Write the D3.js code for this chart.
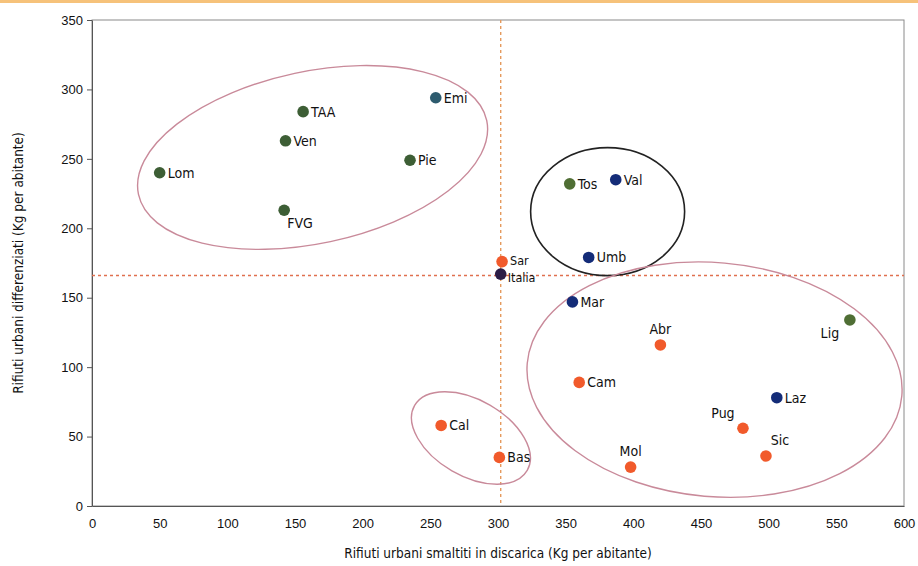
<!DOCTYPE html>
<html>
<head>
<meta charset="utf-8">
<script src="https://cdn.jsdelivr.net/npm/d3@7"></script>
<style>
  body { margin: 0; background: #fff; }
  svg { display: block; }
</style>
</head>
<body>
<div id="chart"></div>
<script>
// regioni: rifiuti in discarica (x) vs differenziati (y), kg per abitante
const regions = ['Lom', 'TAA', 'Ven', 'FVG', 'Pie', 'Emi', 'Tos', 'Val', 'Umb', 'Sar', 'Italia',
  'Mar', 'Abr', 'Lig', 'Cam', 'Laz', 'Pug', 'Sic', 'Mol', 'Cal', 'Bas']
const discarica = [50, 156, 143, 142, 235, 254, 353, 387, 367, 303, 302,
  355, 420, 560, 360, 506, 481, 498, 398, 258, 301]
const differenziati = [240, 284, 263, 213, 249, 294, 232, 235, 179, 176, 167,
  147, 116, 134, 89, 78, 56, 36, 28, 58, 35]
const groups = ['north', 'north', 'north', 'north', 'north', 'teal', 'olive', 'centre', 'centre', 'south', 'italy',
  'centre', 'south', 'olive', 'south', 'centre', 'south', 'south', 'south', 'south', 'south']
// label placement: r = right, a = above, b = below, al = above-left, bl = below-left
const labelPos = ['r', 'r', 'r', 'b', 'r', 'r', 'r', 'r', 'r', 'rh', 'rl',
  'r', 'a', 'bl', 'r', 'r', 'al', 'ar', 'a', 'r', 'r']

const xTicks = [0, 50, 100, 150, 200, 250, 300, 350, 400, 450, 500, 550, 600]
const yTicks = [0, 50, 100, 150, 200, 250, 300, 350]

// Italy reference lines
const italyX = 302
const italyY = 166

// cluster ellipses: centre in data units, radii in px, rotation in deg
const clusterCx = [163, 381, 460, 280]
const clusterCy = [251, 212, 91, 49]
const clusterRx = [178, 77, 188, 65]
const clusterRy = [86, 64, 117, 38]
const clusterRot = [-12, 0, 5, 30]
const clusterColor = ['#c98a9a', '#222', '#c98a9a', '#c98a9a']

const colors = {
  north: '#3d5e35',
  teal: '#2d5b6e',
  olive: '#4f6e34',
  centre: '#142c78',
  south: '#f15a2b',
  italy: '#2b1c46'
}

const width = 918, height = 566
const margin = { top: 20, right: 14, bottom: 60, left: 92 }

const svg = d3.select('#chart').append('svg')
  .attr('width', width)
  .attr('height', height)
  .style('font-family', '"DejaVu Sans Condensed", "Liberation Sans Narrow", sans-serif')

// orange strip at top
svg.append('rect')
  .attr('x', 0).attr('y', 0)
  .attr('width', width).attr('height', 3)
  .attr('fill', '#f6c27a')

const x = d3.scaleLinear().domain([0, 600]).range([margin.left, width - margin.right])
const y = d3.scaleLinear().domain([0, 350]).range([height - margin.bottom, margin.top])

// frame
svg.append('rect')
  .attr('x', x(0)).attr('y', y(350))
  .attr('width', x(600) - x(0)).attr('height', y(0) - y(350))
  .attr('fill', 'none')
  .attr('stroke', '#8a8a8a')
  .attr('stroke-width', 1)

// axes
svg.append('g')
  .attr('transform', `translate(${x(0)},0)`)
  .call(d3.axisLeft(y).tickValues(yTicks).tickSize(5).tickSizeOuter(0))
  .call(g => g.select('.domain').attr('stroke', '#555'))
  .call(g => g.selectAll('.tick line').attr('stroke', '#555'))
  .call(g => g.selectAll('.tick text').attr('font-size', 13).attr('fill', '#111').attr('x', -9))

svg.append('g')
  .attr('transform', `translate(0,${y(0)})`)
  .call(d3.axisBottom(x).tickValues(xTicks).tickSize(0).tickSizeOuter(0))
  .call(g => g.select('.domain').attr('stroke', '#555'))
  .call(g => g.selectAll('.tick text').attr('font-size', 13).attr('fill', '#111').attr('y', 13))

// axis titles
svg.append('text')
  .attr('x', (x(0) + x(600)) / 2)
  .attr('y', 558)
  .attr('text-anchor', 'middle')
  .attr('font-size', 13.5)
  .attr('fill', '#111')
  .text('Rifiuti urbani smaltiti in discarica (Kg per abitante)')

svg.append('text')
  .attr('transform', `translate(23,${(y(0) + y(350)) / 2}) rotate(-90)`)
  .attr('text-anchor', 'middle')
  .attr('font-size', 13.5)
  .attr('fill', '#111')
  .text('Rifiuti urbani differenziati (Kg per abitante)')

// dashed reference lines
svg.append('line')
  .attr('x1', x(italyX)).attr('x2', x(italyX))
  .attr('y1', y(350)).attr('y2', y(0))
  .attr('stroke', '#e59a5e')
  .attr('stroke-width', 1.4)
  .attr('stroke-dasharray', '3,3')

svg.append('line')
  .attr('x1', x(0)).attr('x2', x(600))
  .attr('y1', y(italyY)).attr('y2', y(italyY))
  .attr('stroke', '#e0704f')
  .attr('stroke-width', 1.4)
  .attr('stroke-dasharray', '3,3')

// cluster ellipses
svg.append('g').selectAll('ellipse')
  .data(clusterCx.map((cx, i) => i))
  .join('ellipse')
  .attr('transform', i => `translate(${x(clusterCx[i])},${y(clusterCy[i])}) rotate(${clusterRot[i]})`)
  .attr('rx', i => clusterRx[i])
  .attr('ry', i => clusterRy[i])
  .attr('fill', 'none')
  .attr('stroke', i => clusterColor[i])
  .attr('stroke-width', i => clusterColor[i] === '#222' ? 1.6 : 1.4)

const data = regions.map((r, i) => ({
  name: r, x: discarica[i], y: differenziati[i], group: groups[i], pos: labelPos[i]
}))

const pts = svg.append('g').selectAll('g')
  .data(data)
  .join('g')
  .attr('transform', d => `translate(${x(d.x)},${y(d.y)})`)

pts.append('circle')
  .attr('r', 5.8)
  .attr('fill', d => colors[d.group])

const offsets = {
  r: [8, 5, 'start'],
  rh: [8, 3, 'start'],
  rl: [7, 8, 'start'],
  a: [0, -11, 'middle'],
  b: [3, 18, 'start'],
  al: [-20, -10, 'middle'],
  ar: [14, -11, 'middle'],
  bl: [-20, 18, 'middle']
}

pts.append('text')
  .attr('x', d => offsets[d.pos][0])
  .attr('y', d => offsets[d.pos][1])
  .attr('text-anchor', d => offsets[d.pos][2])
  .attr('font-size', d => d.pos === 'rl' || d.pos === 'rh' ? 12.5 : 14)
  .attr('fill', '#111')
  .text(d => d.name)
</script>
</body>
</html>
